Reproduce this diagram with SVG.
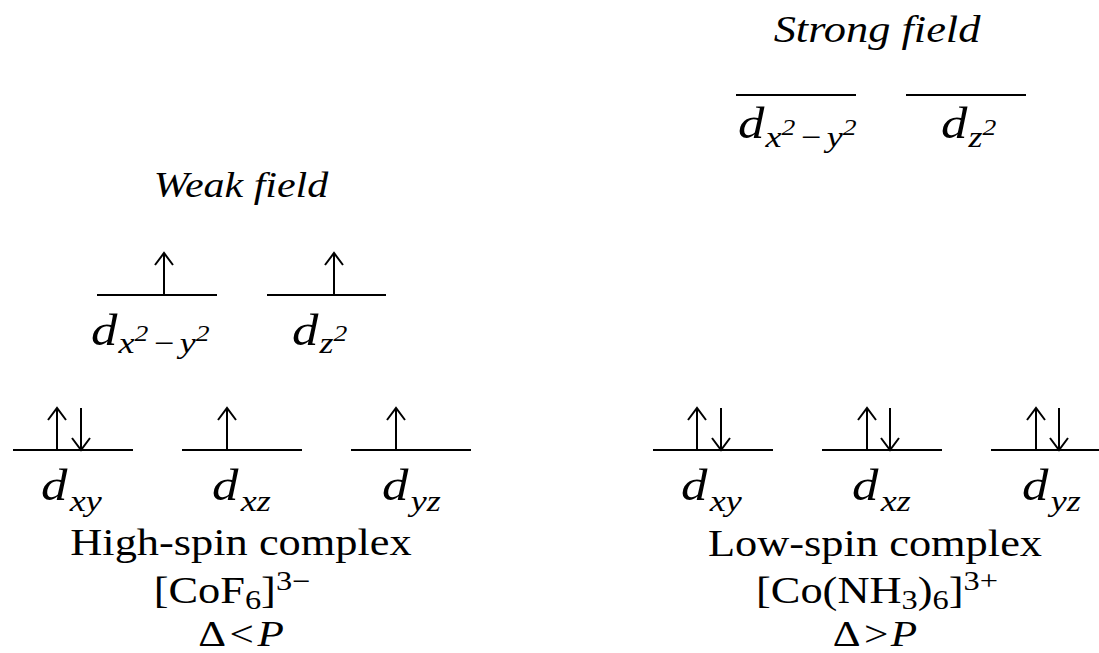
<svg xmlns="http://www.w3.org/2000/svg" width="1099" height="653" viewBox="0 0 1099 653">
<style>
.t{font-family:"Liberation Serif","Times New Roman",serif;fill:#000}
.i{font-style:italic}
.lv{stroke:#000;stroke-width:2;fill:none}
.ar{stroke:#000;stroke-width:2;fill:none;stroke-linejoin:miter}
</style>
<defs>
<path id="up" class="ar" d="M0,0 V-42 M-9,-30 L0,-42 L9,-30"/>
<path id="dn" class="ar" d="M0,-42 V0 M-9,-12 L0,0 L9,-12"/>
</defs>
<rect width="1099" height="653" fill="#fff"/>

<g id="titles">
<text class="t i" font-size="35" text-anchor="middle" transform="translate(241,197) scale(1.2,1)">Weak field</text>
<text class="t i" font-size="37" text-anchor="middle" transform="translate(877,42) scale(1.2,1)">Strong field</text>
</g>

<g id="weak-eg">
<line class="lv" x1="97" y1="295" x2="217" y2="295"/>
<line class="lv" x1="267" y1="295" x2="386" y2="295"/>
<use href="#up" x="164" y="295"/>
<use href="#up" x="334" y="295"/>
<text class="t i" font-size="44" transform="translate(91,345) scale(1.2,1)">d<tspan font-size="30" dy="8" dx="1">x</tspan><tspan font-size="23" dy="-12">2</tspan><tspan font-size="30" dy="12" dx="3">−</tspan><tspan font-size="30" dx="3">y</tspan><tspan font-size="23" dy="-12">2</tspan></text>
<text class="t i" font-size="44" transform="translate(292,345) scale(1.2,1)">d<tspan font-size="30" dy="8" dx="1">z</tspan><tspan font-size="23" dy="-12">2</tspan></text>
</g>

<g id="weak-t2g">
<line class="lv" x1="13" y1="450" x2="133" y2="450"/>
<line class="lv" x1="182" y1="450" x2="302" y2="450"/>
<line class="lv" x1="351" y1="450" x2="471" y2="450"/>
<use href="#up" x="57" y="450"/>
<use href="#dn" x="81" y="450"/>
<use href="#up" x="227" y="450"/>
<use href="#up" x="396" y="450"/>
<text class="t i" font-size="44" transform="translate(41,500) scale(1.2,1)">d<tspan font-size="30" dy="11" dx="2">xy</tspan></text>
<text class="t i" font-size="44" transform="translate(212,500) scale(1.2,1)">d<tspan font-size="30" dy="11" dx="2">xz</tspan></text>
<text class="t i" font-size="44" transform="translate(382,500) scale(1.2,1)">d<tspan font-size="30" dy="11" dx="2">yz</tspan></text>
</g>

<g id="strong-eg">
<line class="lv" x1="736" y1="95" x2="856" y2="95"/>
<line class="lv" x1="906" y1="95" x2="1026" y2="95"/>
<text class="t i" font-size="44" transform="translate(738,138) scale(1.2,1)">d<tspan font-size="30" dy="9" dx="1">x</tspan><tspan font-size="23" dy="-12">2</tspan><tspan font-size="30" dy="12" dx="3">−</tspan><tspan font-size="30" dx="3">y</tspan><tspan font-size="23" dy="-12">2</tspan></text>
<text class="t i" font-size="44" transform="translate(941,138) scale(1.2,1)">d<tspan font-size="30" dy="9" dx="1">z</tspan><tspan font-size="23" dy="-12">2</tspan></text>
</g>

<g id="strong-t2g">
<line class="lv" x1="653" y1="450" x2="773" y2="450"/>
<line class="lv" x1="822" y1="450" x2="942" y2="450"/>
<line class="lv" x1="991" y1="450" x2="1111" y2="450"/>
<use href="#up" x="697" y="450"/>
<use href="#dn" x="721" y="450"/>
<use href="#up" x="867" y="450"/>
<use href="#dn" x="890" y="450"/>
<use href="#up" x="1036" y="450"/>
<use href="#dn" x="1059" y="450"/>
<text class="t i" font-size="44" transform="translate(681,500) scale(1.2,1)">d<tspan font-size="30" dy="11" dx="2">xy</tspan></text>
<text class="t i" font-size="44" transform="translate(852,500) scale(1.2,1)">d<tspan font-size="30" dy="11" dx="2">xz</tspan></text>
<text class="t i" font-size="44" transform="translate(1022,500) scale(1.2,1)">d<tspan font-size="30" dy="11" dx="2">yz</tspan></text>
</g>

<g id="high-spin-caption">
<text class="t" font-size="37" text-anchor="middle" transform="translate(241,555) scale(1.2,1)">High-spin complex</text>
<text class="t" font-size="37" text-anchor="middle" transform="translate(232,603) scale(1.2,1)">[CoF<tspan font-size="27" dy="6">6</tspan><tspan dy="-6">]</tspan><tspan font-size="27" dy="-13">3−</tspan></text>
<text class="t" font-size="36" text-anchor="middle" transform="translate(241,646) scale(1.2,1)">Δ<tspan dx="3">&lt;</tspan><tspan class="i" dx="3">P</tspan></text>
</g>

<g id="low-spin-caption">
<text class="t" font-size="37" text-anchor="middle" transform="translate(875,556) scale(1.2,1)">Low-spin complex</text>
<text class="t" font-size="37" text-anchor="middle" transform="translate(877,603) scale(1.2,1)">[Co(NH<tspan font-size="27" dy="6">3</tspan><tspan dy="-6">)</tspan><tspan font-size="27" dy="6">6</tspan><tspan dy="-6">]</tspan><tspan font-size="27" dy="-13">3+</tspan></text>
<text class="t" font-size="36" text-anchor="middle" transform="translate(875,646) scale(1.2,1)">Δ<tspan dx="3">&gt;</tspan><tspan class="i" dx="2">P</tspan></text>
</g>
</svg>
